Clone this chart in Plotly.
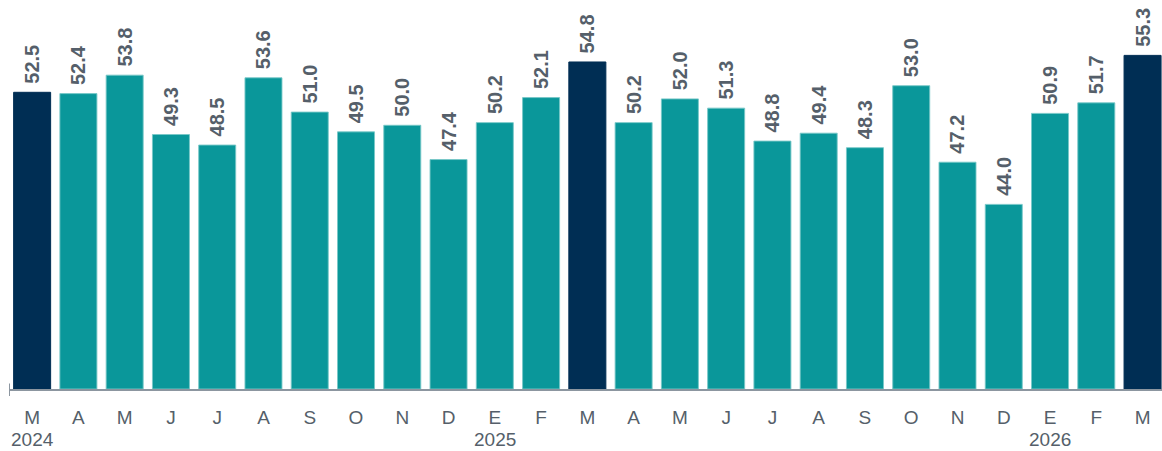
import plotly.graph_objects as go

months = ["M", "A", "M", "J", "J", "A", "S", "O", "N", "D", "E", "F",
          "M", "A", "M", "J", "J", "A", "S", "O", "N", "D", "E", "F", "M"]
years = ["2024", "", "", "", "", "", "", "", "", "", "2025", "",
         "", "", "", "", "", "", "", "", "", "", "2026", "", ""]
values = [52.5, 52.4, 53.8, 49.3, 48.5, 53.6, 51.0, 49.5, 50.0, 47.4, 50.2, 52.1,
          54.8, 50.2, 52.0, 51.3, 48.8, 49.4, 48.3, 53.0, 47.2, 44.0, 50.9, 51.7, 55.3]
highlight = [True] + [False] * 11 + [True] + [False] * 11 + [True]

TEAL = "#0a979a"
NAVY = "#002e54"
TXT = "#555f6a"
BASE = 30

x = list(range(len(values)))
colors = [NAVY if h else TEAL for h in highlight]
lines = ["rgba(0,46,84,1)" if h else "rgba(120,200,200,0.9)" for h in highlight]

fig = go.Figure(go.Bar(
    x=x, y=[v - BASE for v in values], base=BASE,
    marker=dict(color=colors, line=dict(color=lines, width=1)),
    text=["\u00a0" + f"{v:.1f}" for v in values],
    textposition="outside", textangle=-90, constraintext="none",
    textfont=dict(family="Arial, Liberation Sans, sans-serif", size=20, color=TXT, weight="bold"),
    cliponaxis=False,
))

annotations = [dict(x=i, y=0, xref="x", yref="paper", text=y, showarrow=False,
                    yshift=-50, yanchor="middle",
                    font=dict(size=19, color=TXT))
               for i, y in enumerate(years) if y]

fig.update_layout(
    width=1162, height=451,
    margin=dict(l=9, r=0, t=0, b=62, autoexpand=False),
    plot_bgcolor="white", paper_bgcolor="white",
    bargap=0.2, showlegend=False,
    font=dict(family="Arial, Liberation Sans, sans-serif", color=TXT),
    xaxis=dict(
        range=[-0.5, 24.42], tickmode="array", tickvals=x, ticktext=months,
        showline=True, linecolor="#8c96a0", linewidth=2, ticks="",
        tickfont=dict(size=19, color=TXT), showgrid=False, zeroline=False,
        ticklabelstandoff=10, automargin=False,
    ),
    yaxis=dict(range=[BASE, 59.5], visible=False, showgrid=False, zeroline=False,
               automargin=False),
    annotations=annotations,
    shapes=[dict(type="line", xref="x", yref="paper", x0=-0.5, x1=-0.5,
                 y0=-0.018, y1=0.014, line=dict(color="#8c96a0", width=2))],
)

fig.write_html("out.html", config={"displayModeBar": False},
               post_script="document.body.style.margin='0';document.body.style.overflow='hidden';")
